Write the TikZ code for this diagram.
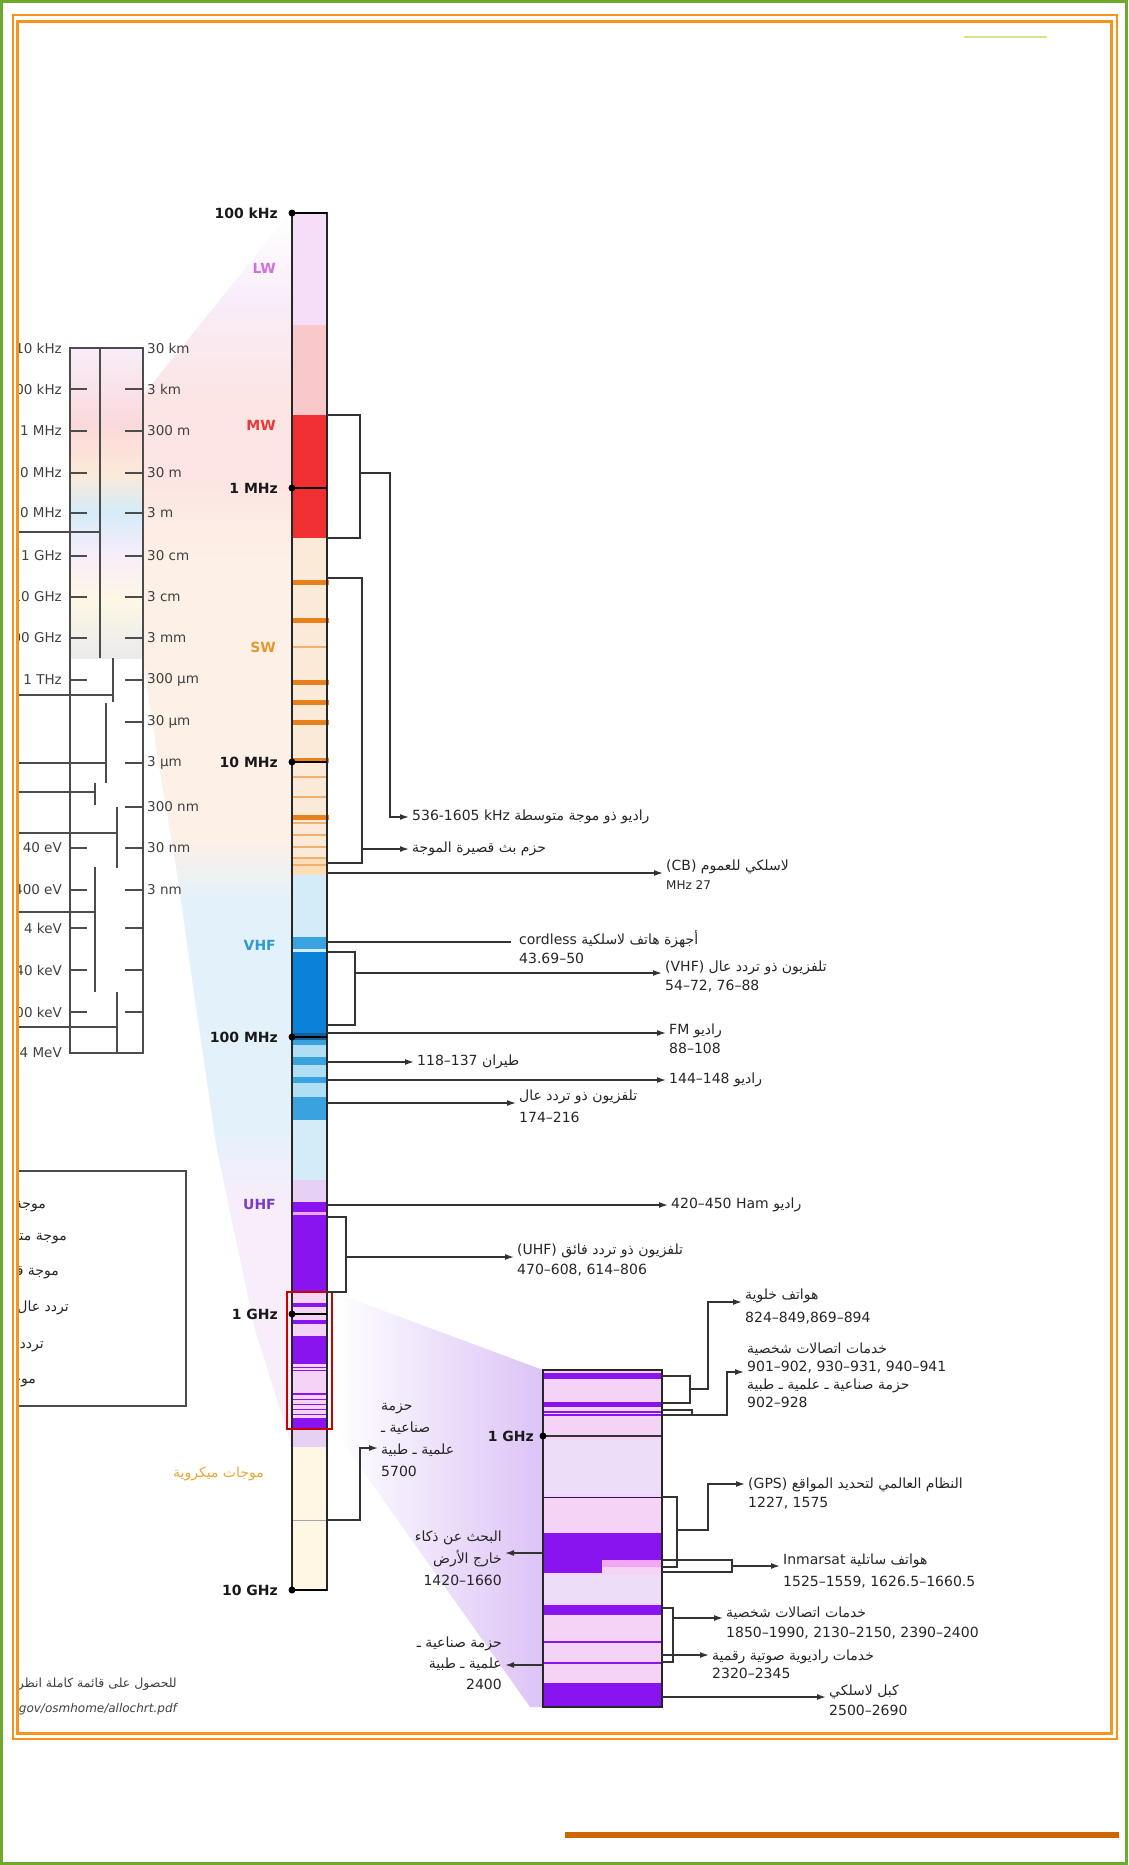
\documentclass[tikz,border=0pt]{standalone}
\usepackage{fontspec}
\setmainfont{DejaVu Sans}
\newfontfamily\arabicfont[Script=Arabic]{DejaVu Sans}
\newfontfamily\latinfont{DejaVu Sans}
\TeXXeTstate=1
\usetikzlibrary{arrows.meta}
\newcommand\artxt[1]{{\arabicfont\beginR #1\endR}}
\newcommand\lat[1]{{\latinfont\beginL #1\endL}}
% frame colours
\definecolor{framegreen}{HTML}{6DAA2C}
\definecolor{frameorange}{HTML}{F7941D}
\definecolor{rulebrown}{HTML}{CC6600}
\definecolor{marklime}{HTML}{D2E48C}
% band colours
\definecolor{lwcol}{HTML}{F6DDF8}
\definecolor{mwpale}{HTML}{F8C8CA}
\definecolor{mwred}{HTML}{F03030}
\definecolor{swpeach}{HTML}{FCEAD9}
\definecolor{swdeep}{HTML}{FBDDB8}
\definecolor{swbar}{HTML}{E8801C}
\definecolor{swthin}{HTML}{F2B070}
\definecolor{vhfpale}{HTML}{D4EBF8}
\definecolor{vhflite}{HTML}{B0DEF5}
\definecolor{vhfmid}{HTML}{3AA2DE}
\definecolor{vhfdark}{HTML}{0A82DA}
\definecolor{vhfnavy}{HTML}{1A5E98}
\definecolor{uhflav}{HTML}{E6D1F5}
\definecolor{uhfpurple}{HTML}{8A14F0}
\definecolor{uhfpink}{HTML}{F0A8F2}
\definecolor{ghzbg}{HTML}{F3D3F6}
\definecolor{ghzpale}{HTML}{EEDDF9}
\definecolor{mwcream}{HTML}{FDF7E4}
% fan colours
\definecolor{fanlav}{HTML}{F8EDFA}
\definecolor{fanpink}{HTML}{FCE5E2}
\definecolor{fanpeach}{HTML}{FDF0E7}
\definecolor{fanblue}{HTML}{E3F1FB}
\definecolor{fanpurple}{HTML}{DCC3F6}
% text colours
\definecolor{lwtext}{HTML}{D070E0}
\definecolor{mwtext}{HTML}{E53A3A}
\definecolor{swtext}{HTML}{E8962E}
\definecolor{vhftext}{HTML}{2E9AD0}
\definecolor{uhftext}{HTML}{7A3CC8}
\definecolor{mictext}{HTML}{E8A838}
\begin{document}
\begin{tikzpicture}[x=1pt,y=-1pt,
    conn/.style={line width=1.4pt, draw=black!80},
    arr/.style={conn, -{Latex[length=9pt,width=6pt]}},
    lab/.style={anchor=west, inner sep=3pt, align=left, text=black!85,
      font=\fontsize{14}{19}\selectfont},
    labr/.style={lab, anchor=east, align=right},
    freq/.style={anchor=east, inner sep=1pt, text=black!90,
      font=\bfseries\fontsize{14}{16}\selectfont},
    bandname/.style={anchor=east, inner sep=1pt, font=\bfseries\fontsize{14}{16}\selectfont},
    scl/.style={inner sep=1pt, text=black!75, font=\fontsize{13.5}{15}\selectfont},
    tick/.style={line width=1.5pt, draw=black!70},
  ]
  \useasboundingbox (0,0) rectangle (1128,1865);

  % big fan from the small scale to the bar
  \begin{scope}
    \clip (143,395) -- (290,213) -- (292,213) -- (292,1447) -- (255,1330)
      -- (217,1150) -- (195,1000) -- (177,873) -- (158,760) -- (143,660) -- cycle;
    \shade[top color=white, bottom color=fanlav] (0,213) rectangle (300,300);
    \shade[top color=fanlav, bottom color=fanpink] (0,300) rectangle (300,400);
    \fill[fanpink] (0,399) rectangle (300,481);
    \shade[top color=fanpink, bottom color=fanpeach] (0,480) rectangle (300,560);
    \fill[fanpeach] (0,559) rectangle (300,841);
    \shade[top color=fanpeach, bottom color=fanblue] (0,840) rectangle (300,900);
    \fill[fanblue] (0,899) rectangle (300,1131);
    \shade[top color=fanblue, bottom color=fanlav] (0,1130) rectangle (300,1200);
    \fill[fanlav] (0,1199) rectangle (300,1450);
  \end{scope}

  % fan towards the zoomed GHz bar
  \shade[left color=white, right color=fanpurple]
    (333,1292) -- (543,1370) -- (543,1707) -- (530,1707) -- (333,1429) -- cycle;

  % small scale on the left, cut by the frame
  \begin{scope}
    \clip (19,23) rectangle (1110,1731);
    \begin{scope}
      \clip (71,349) rectangle (142,658);
      \shade[top color=fanlav, bottom color=mwpale!70] (60,349) rectangle (150,425);
      \shade[top color=mwpale!70, bottom color=swpeach] (60,424) rectangle (150,475);
      \shade[top color=swpeach, bottom color=vhfpale] (60,474) rectangle (150,512);
      \shade[top color=vhfpale, bottom color=fanlav] (60,511) rectangle (150,555);
      \shade[top color=fanlav, bottom color=mwcream] (60,554) rectangle (150,600);
      \shade[top color=mwcream, bottom color=black!8] (60,599) rectangle (150,658);
    \end{scope}
    \draw[tick] (70,348) rectangle (143,1053);
    \draw[tick] (100,348) -- (100,658);
    \foreach \yy in {389,431,473,513,556,597,638,680,848,890,928,970,1012}
      \draw[tick] (70,\yy) -- (87,\yy);
    \foreach \yy in {389,431,473,513,556,597,638,680,722,763,807,848,890,928,970,1012}
      \draw[tick] (125,\yy) -- (143,\yy);
    % brackets of the small scale
    \draw[tick] (10,532) -- (100,532);
    \draw[tick] (10,695) -- (113,695) (113,658) -- (113,702);
    \draw[tick] (10,763) -- (106,763) (106,703) -- (106,783);
    \draw[tick] (10,792) -- (95,792) (95,783) -- (95,805);
    \draw[tick] (10,833) -- (117,833) (117,807) -- (117,868);
    \draw[tick] (10,912) -- (95,912) (95,867) -- (95,992);
    \draw[tick] (10,1027) -- (117,1027) (117,992) -- (117,1053);
    \foreach \yy/\txt in {348/10 kHz, 389/100 kHz, 431/1 MHz, 473/10 MHz,
        513/100 MHz, 556/1 GHz, 597/10 GHz, 638/100 GHz, 680/1 THz,
        848/40 eV, 890/400 eV, 928/4 keV, 970/40 keV, 1012/400 keV, 1053/4 MeV}
      \node[scl, anchor=east] (sl\yy) at (63,\yy) {\txt};
    \foreach \yy/\txt in {348/30 km, 389/3 km, 431/300 m, 473/30 m, 513/3 m,
        556/30 cm, 597/3 cm, 638/3 mm, 680/300 µm, 722/30 µm, 763/3 µm,
        807/300 nm, 848/30 nm, 890/3 nm}
      \node[scl, anchor=west] (sr\yy) at (146,\yy) {\txt};
    % legend box
    \draw[tick, line width=1.3pt] (5,1171) rectangle (186,1406);
    \foreach \yy/\xx/\txt in {1205/47/موجة طويلة, 1237/68/موجة متوسطة,
        1273/60/موجة قصيرة, 1308/70/تردد عال جدا, 1345/45/تردد فائق العلو,
        1380/37/موجات ميكروية}
      \node[scl, anchor=east, text=black!85, font=\fontsize{14}{16}\selectfont]
        (lg\yy) at (\xx,\yy) {\artxt{\txt}};
    % source note
    \node[scl, anchor=east, font=\fontsize{12.5}{14}\selectfont] (src1) at (178,1684)
      {\artxt{للحصول على قائمة كاملة انظر}};
    \node[scl, anchor=east, font=\itshape\fontsize{12}{14}\selectfont] (src2) at (178,1709)
      {www.ntia.doc.gov/osmhome/allochrt.pdf};
  \end{scope}

  % main bar
  \fill[lwcol] (292,213) rectangle (327,325);
  \fill[mwpale] (292,325) rectangle (327,415);
  \fill[mwred] (292,415) rectangle (327,538);
  \fill[swpeach] (292,538) rectangle (327,858);
  \fill[swdeep] (292,858) rectangle (327,875);
  \fill[vhfpale] (292,875) rectangle (327,1180);
  \fill[vhflite] (292,1040) rectangle (327,1097);
  \foreach \ya/\yb/\cc in {937/949/vhfmid, 952/1033/vhfdark, 1033/1040/vhfnavy,
      1040/1045/vhfmid, 1057/1065/vhfmid, 1077/1083/vhfmid, 1097/1120/vhfmid}
    \fill[\cc] (292,\ya) rectangle (327,\yb);
  \fill[uhflav] (292,1180) rectangle (327,1202);
  \fill[uhfpurple] (292,1202) rectangle (327,1292);
  \fill[uhfpink] (292,1212) rectangle (327,1215);
  \fill[ghzbg] (292,1292) rectangle (327,1429);
  \foreach \ya/\yb in {1303/1307, 1320/1324, 1336/1364, 1393/1395, 1418/1429}
    \fill[uhfpurple] (292,\ya) rectangle (327,\yb);
  \foreach \yy in {1367,1370,1399,1404,1409,1414}
    \draw[uhfpurple, line width=1pt] (292,\yy) -- (327,\yy);
  \fill[uhflav] (292,1429) rectangle (327,1447);
  \fill[mwcream] (292,1447) rectangle (327,1590);
  \draw[black!35, line width=0.8pt] (292,1520) -- (327,1520);
  % short wave stripes
  \foreach \yy in {582,620,682,702,722,760,817}
    \draw[swbar, line width=5pt] (292,\yy) -- (329,\yy);
  \foreach \yy in {647,777,797,823,835,847,858,865}
    \draw[swthin, line width=1.2pt] (292,\yy) -- (327,\yy);
  \draw[line width=1.8pt, black!85] (292,213) rectangle (327,1590);
  \draw[red!80!black, line width=1.5pt] (287,1292) rectangle (332,1429);

  % frequency marks
  \foreach \yy/\nm/\txt in {213/f100k/100 kHz, 488/f1M/1 MHz, 762/f10M/10 MHz,
      1037/f100M/100 MHz, 1314/f1G/1 GHz, 1590/f10G/10 GHz}
  {
    \draw[line width=1.6pt] (292,\yy) -- (327,\yy);
    \fill (292,\yy) circle (3.5);
    \node[freq] (\nm) at (279,\yy) {\txt};
  }
  \node[bandname, text=lwtext] (bLW) at (277,268) {LW};
  \node[bandname, text=mwtext] (bMW) at (277,425) {MW};
  \node[bandname, text=swtext] (bSW) at (277,647) {SW};
  \node[bandname, text=vhftext] (bVHF) at (277,945) {VHF};
  \node[bandname, text=uhftext] (bUHF) at (277,1204) {UHF};
  \node[bandname, text=mictext, font=\fontsize{14}{16}\selectfont] (bMic) at (265,1474)
    {\artxt{موجات ميكروية}};

  % connectors of the main bar
  \node[lab] (lMW) at (409,817) {\artxt{راديو ذو موجة متوسطة \lat{536-1605 kHz}}};
  \draw[conn] (327,415) -- (360,415) -- (360,538) -- (327,538);
  \draw[arr] (360,473) -- (390,473) -- (390,817) -- (lMW.west);

  \node[lab] (lSW) at (409,849) {\artxt{حزم بث قصيرة الموجة}};
  \draw[conn] (327,578) -- (362,578) -- (362,863) -- (327,863);
  \draw[arr] (362,849) -- (lSW.west);

  \node[lab] (lCB) at (663,875)
    {\artxt{لاسلكي للعموم \lat{(CB)}}\\{\fontsize{12}{14}\selectfont MHz 27}};
  \draw[arr] (327,873) -- (327,873 -| lCB.west);

  \node[lab, inner xsep=8pt] (lCord) at (511,947.5)
    {\artxt{أجهزة هاتف لاسلكية \lat{cordless}}\\43.69–50};
  \draw[conn] (327,942) -- (327,942 -| lCord.west);

  \node[lab] (lVHF) at (662,976.5) {\artxt{تلفزيون ذو تردد عال \lat{(VHF)}}\\54–72, 76–88};
  \draw[conn] (327,952) -- (355,952) -- (355,1025) -- (327,1025);
  \draw[arr] (355,973) -- (355,973 -| lVHF.west);

  \node[lab] (lFM) at (666,1038.5) {\artxt{راديو \lat{FM}}\\88–108};
  \draw[arr] (327,1033) -- (327,1033 -| lFM.west);

  \node[lab] (lAir) at (414,1062) {\artxt{طيران \lat{118–137}}};
  \draw[arr] (327,1062) -- (lAir.west);

  \node[lab] (l144) at (666,1080) {\artxt{راديو \lat{144–148}}};
  \draw[arr] (327,1080) -- (l144.west);

  \node[lab, font=\fontsize{14}{22}\selectfont] (l174) at (516,1106)
    {\artxt{تلفزيون ذو تردد عال}\\174–216};
  \draw[arr] (327,1103) -- (327,1103 -| l174.west);

  \node[lab] (lHam) at (668,1205) {\artxt{راديو \lat{420–450 Ham}}};
  \draw[arr] (327,1205) -- (lHam.west);

  \node[lab, font=\fontsize{14}{20}\selectfont] (lUTV) at (514,1260)
    {\artxt{تلفزيون ذو تردد فائق \lat{(UHF)}}\\470–608, 614–806};
  \draw[conn] (327,1217) -- (346,1217) -- (346,1292) -- (327,1292);
  \draw[arr] (346,1257) -- (346,1257 -| lUTV.west);

  \node[lab, font=\fontsize{14}{22}\selectfont] (l5700) at (378,1440)
    {\artxt{حزمة}\\\artxt{صناعية ـ}\\\artxt{علمية ـ طبية}\\5700};
  \draw[arr] (327,1520) -- (360,1520) -- (360,1448) -- (360,1448 -| l5700.west);

  % zoomed GHz bar
  \fill[ghzbg] (543,1370) rectangle (662,1707);
  \fill[ghzpale] (543,1440) rectangle (662,1495);
  \fill[ghzpale] (543,1575) rectangle (662,1603);
  \foreach \ya/\yb in {1373/1379, 1402/1407, 1605/1615, 1683/1707}
    \fill[uhfpurple] (543,\ya) rectangle (662,\yb);
  \foreach \yy in {1412,1415,1642,1663}
    \draw[uhfpurple, line width=1.3pt] (543,\yy) -- (662,\yy);
  \fill[uhfpurple] (543,1533) rectangle (662,1560);
  \fill[uhfpurple] (543,1560) rectangle (602,1573);
  \fill[uhfpink] (602,1560) rectangle (662,1567);
  \draw[black!60!uhfpurple, line width=1pt] (543,1497) -- (662,1497);
  \draw[line width=1.6pt, black!80] (543,1436) -- (662,1436);
  \draw[line width=1.8pt, black!85] (543,1370) rectangle (662,1707);
  \fill (543,1436) circle (3.5);
  \node[freq] (z1G) at (535,1436) {1 GHz};

  % connectors of the zoomed bar
  \node[lab, font=\fontsize{14}{23}\selectfont] (lCell) at (742,1306.5)
    {\artxt{هواتف خلوية}\\824–849,869–894};
  \draw[conn] (662,1376) -- (690,1376) -- (690,1403) -- (662,1403);
  \draw[arr] (690,1389) -- (708,1389) -- (708,1302) -- (708,1302 -| lCell.west);

  \node[lab, font=\fontsize{14}{18}\selectfont] (lPCS9) at (744,1375)
    {\artxt{خدمات اتصالات شخصية}\\901–902, 930–931, 940–941\\
     \artxt{حزمة صناعية ـ علمية ـ طبية}\\902–928};
  \draw[conn] (662,1410) -- (692,1410) -- (692,1415);
  \draw[arr] (662,1415) -- (727,1415) -- (727,1372) -- (727,1372 -| lPCS9.west);

  \node[lab] (lGPS) at (745,1493.5)
    {\artxt{النظام العالمي لتحديد المواقع \lat{(GPS)}}\\1227, 1575};
  \draw[conn] (662,1497) -- (677,1497) -- (677,1567) -- (662,1567);
  \draw[arr] (677,1530) -- (708,1530) -- (708,1484) -- (708,1484 -| lGPS.west);

  \node[lab, font=\fontsize{14}{22}\selectfont] (lInm) at (780,1571)
    {\artxt{هواتف ساتلية \lat{Inmarsat}}\\1525–1559, 1626.5–1660.5};
  \draw[conn] (662,1560) -- (732,1560) -- (732,1572) -- (662,1572);
  \draw[arr] (732,1566) -- (732,1566 -| lInm.west);

  \node[lab, font=\fontsize{14}{20}\selectfont] (lPCS) at (723,1623)
    {\artxt{خدمات اتصالات شخصية}\\1850–1990, 2130–2150, 2390–2400};
  \draw[conn] (662,1608) -- (673,1608) -- (673,1662) -- (662,1662);
  \draw[arr] (673,1618) -- (673,1618 -| lPCS.west);

  \node[lab, font=\fontsize{14}{18}\selectfont] (lDAB) at (709,1664)
    {\artxt{خدمات راديوية صوتية رقمية}\\2320–2345};
  \draw[arr] (662,1655) -- (662,1655 -| lDAB.west);

  \node[lab, font=\fontsize{14}{20}\selectfont] (lCab) at (826,1700)
    {\artxt{كبل لاسلكي}\\2500–2690};
  \draw[arr] (662,1697) -- (662,1697 -| lCab.west);

  \node[labr, font=\fontsize{14}{22}\selectfont] (lSETI) at (505,1558)
    {\artxt{البحث عن ذكاء}\\\artxt{خارج الأرض}\\1420–1660};
  \draw[arr] (543,1553) -- (543,1553 -| lSETI.east);

  \node[labr, font=\fontsize{14}{21}\selectfont] (l2400) at (505,1663)
    {\artxt{حزمة صناعية ـ}\\\artxt{علمية ـ طبية}\\2400};
  \draw[arr] (543,1665) -- (543,1665 -| l2400.east);

  % frames
  \draw[framegreen, line width=3pt] (1.5,1.5) rectangle (1126.5,1863.5);
  \draw[frameorange, line width=1.2pt] (13,15) rectangle (1117,1739);
  \draw[frameorange, line width=3pt] (17.5,21.5) rectangle (1111,1733);
  \fill[rulebrown] (565,1832) rectangle (1119,1838);
  \draw[marklime, line width=1.5pt] (964,37) -- (1047,37);
\end{tikzpicture}
\end{document}
